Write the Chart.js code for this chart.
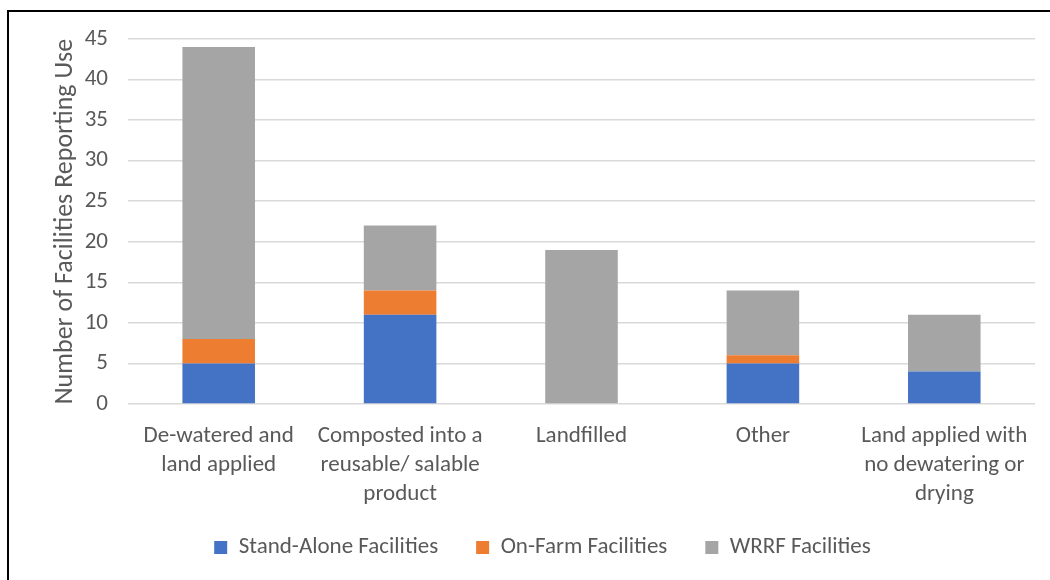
<!DOCTYPE html>
<html>
<head>
<meta charset="utf-8">
<script src="https://cdn.jsdelivr.net/npm/chart.js@4/dist/chart.umd.min.js"></script>
<style>
  body { margin: 0; background: #fff; overflow: hidden; }
  #wrap { position: relative; width: 1050px; height: 580px; }
  #frame { position: absolute; left: 7px; top: 10px; width: 1100px; height: 700px;
           border-top: 2px solid #000; border-left: 2px solid #000; pointer-events: none; }
  canvas { position: absolute; left: 0; top: 0; }
</style>
</head>
<body>
<div id="wrap">
  <canvas id="myChart" width="1050" height="580"></canvas>
  <div id="frame"></div>
</div>
<script>
// categories (wrapped the way the reference wraps them)
const categories = [
    ['De-watered and', 'land applied'],
    ['Composted into a', 'reusable/ salable', 'product'],
    ['Landfilled'],
    ['Other'],
    ['Land applied with', 'no dewatering or', 'drying']
];

const standAlone = [5, 11, 0, 5, 4];
const onFarm     = [3, 3, 0, 1, 0];
const wrrf       = [36, 8, 19, 8, 7];

const yTitle = 'Number of Facilities Reporting Use';

const textColor = '#595959';
const fontFamily = 'Carlito, Calibri, Lato, sans-serif';

// fixed legend height so the item spacing doesn't eat the plot,
// and nudge it up a little since labels.padding also pads vertically
const legendTweak = {
    id: 'legendTweak',
    beforeInit: function (chart) {
        const legend = chart.legend;
        const fit = legend.fit;
        legend.fit = function () {
            fit.call(this);
            this.height = 60;
        };
        const draw = legend.draw;
        legend.draw = function () {
            const c = this.ctx;
            c.save();
            c.translate(0, -6);
            draw.call(this);
            c.restore();
        };
    }
};

const ctx = document.getElementById('myChart');

const myChart = new Chart(ctx, {
    type: 'bar',
    data: {
        labels: categories,
        datasets: [
            { label: 'Stand-Alone Facilities', data: standAlone, backgroundColor: '#4472C4' },
            { label: 'On-Farm Facilities', data: onFarm, backgroundColor: '#ED7D31' },
            { label: 'WRRF Facilities', data: wrrf, backgroundColor: '#A5A5A5' }
        ]
    },
    options: {
        responsive: false,
        animation: false,
        layout: { padding: { left: 50, right: 15, top: 39, bottom: 16 } },
        datasets: { bar: { categoryPercentage: 0.4, barPercentage: 1 } },
        scales: {
            x: {
                stacked: true,
                grid: { display: false },
                border: { display: false },
                ticks: {
                    color: textColor,
                    maxRotation: 0,
                    autoSkip: false,
                    padding: 10,
                    font: { family: fontFamily, size: 23, lineHeight: 1.26 }
                },
                afterFit: function (scale) { scale.height = 100; }
            },
            y: {
                stacked: true,
                min: 0,
                max: 45,
                border: { display: false },
                grid: { color: '#D9D9D9', lineWidth: 1.5, drawTicks: false },
                ticks: {
                    stepSize: 5,
                    color: textColor,
                    padding: 20,
                    font: { family: fontFamily, size: 23 }
                },
                title: {
                    display: true,
                    text: yTitle,
                    color: textColor,
                    padding: 0,
                    font: { family: fontFamily, size: 26 }
                },
                afterFit: function (scale) { scale.width = 78; }
            }
        },
        plugins: {
            legend: {
                position: 'bottom',
                labels: {
                    color: textColor,
                    boxWidth: 13,
                    boxHeight: 13,
                    padding: 38,
                    font: { family: fontFamily, size: 23 }
                }
            },
            tooltip: { enabled: false }
        }
    },
    plugins: [legendTweak]
});
</script>
</body>
</html>
